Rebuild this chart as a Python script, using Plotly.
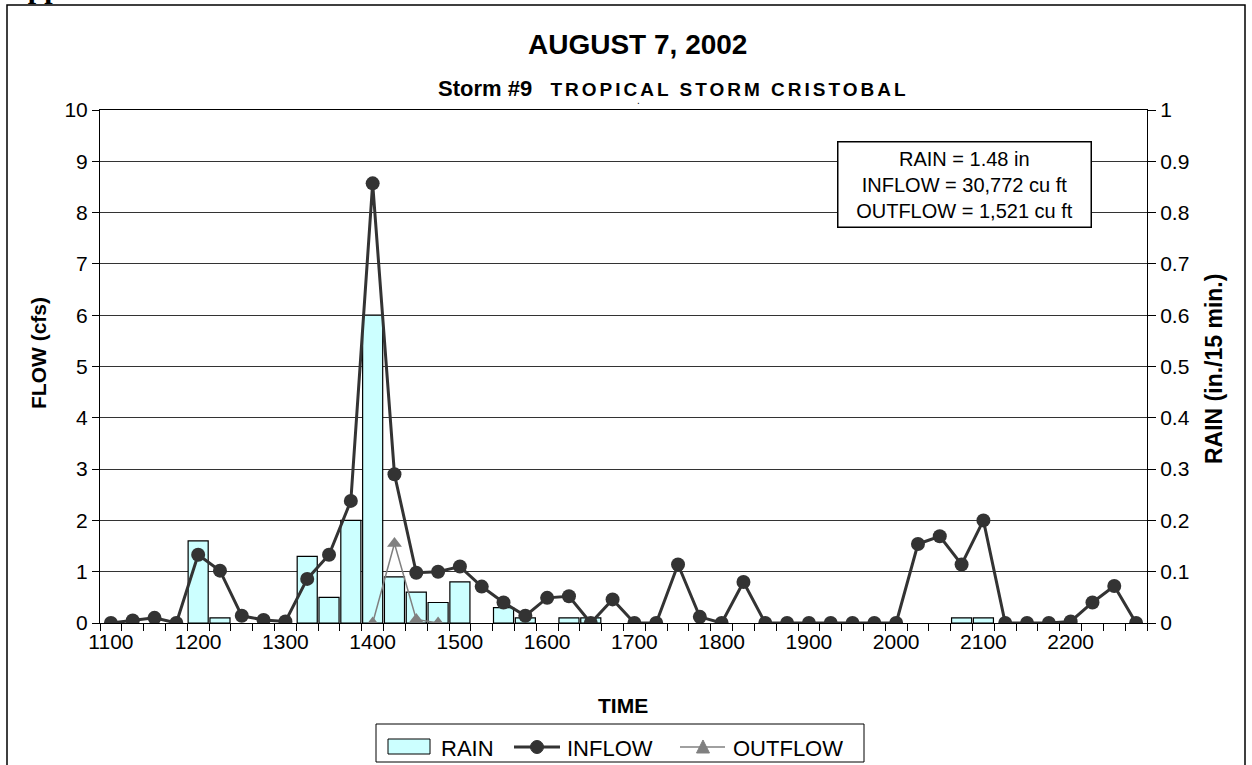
import plotly.graph_objects as go

# 15-minute time steps shown as categories on the x axis
times = [
    "1100", "1115", "1130", "1145", "1200", "1215", "1230", "1245",
    "1300", "1315", "1330", "1345", "1400", "1415", "1430", "1445",
    "1500", "1515", "1530", "1545", "1600", "1615", "1630", "1645",
    "1700", "1715", "1730", "1745", "1800", "1815", "1830", "1845",
    "1900", "1915", "1930", "1945", "2000", "2015", "2030", "2045",
    "2100", "2115", "2130", "2145", "2200", "2215", "2230", "2245",
]

# rain, in./15 min. (right axis)
rain = [
    None, None, None, None, 0.16, 0.01, None, None,
    None, 0.13, 0.05, 0.20, 0.60, 0.09, 0.06, 0.04,
    0.08, None, 0.03, 0.01, None, 0.01, 0.01, None,
    None, None, None, None, None, None, None, None,
    None, None, None, None, None, None, None, 0.01,
    0.01, None, None, None, None, None, None, None,
]

# inflow, cfs (left axis)
inflow = [
    0.0, 0.05, 0.10, 0.0, 1.33, 1.02, 0.14, 0.06,
    0.03, 0.86, 1.33, 2.38, 8.57, 2.90, 0.98, 1.00,
    1.10, 0.71, 0.40, 0.14, 0.49, 0.52, 0.0, 0.46,
    0.0, 0.0, 1.14, 0.12, 0.0, 0.80, 0.0, 0.0,
    0.0, 0.0, 0.0, 0.0, 0.0, 1.54, 1.69, 1.14,
    2.00, 0.0, 0.0, 0.0, 0.03, 0.40, 0.72, 0.0,
]

# outflow, cfs (left axis)
outflow = [None] * 12 + [0.0, 1.55, 0.07, 0.0] + [None] * 32

tick_text = [t if t.endswith("00") else "" for t in times]

FONT = "Liberation Sans, Arial, sans-serif"
W, H = 1252, 765
L, R, T, B = 100, 105, 110, 142
PW, PH = W - L - R, H - T - B


def px(x):
    # pixel column -> paper x
    return (x - L) / PW


def py(y):
    # pixel row -> paper y
    return (H - B - y) / PH


fig = go.Figure()

fig.add_trace(go.Bar(
    x=times, y=rain, name="RAIN", yaxis="y", showlegend=False,
    marker=dict(color="#CCFFFF", line=dict(color="black", width=1.2)),
))
fig.add_trace(go.Scatter(
    x=times, y=inflow, name="INFLOW", yaxis="y2", mode="lines+markers",
    showlegend=False,
    line=dict(color="#333333", width=3),
    marker=dict(symbol="circle", size=14, color="#333333"),
))
fig.add_trace(go.Scatter(
    x=times, y=outflow, name="OUTFLOW", yaxis="y2", mode="lines+markers",
    showlegend=False,
    line=dict(color="#808080", width=1.5),
    marker=dict(symbol="triangle-up", size=13, color="#808080"),
))

fig.update_layout(
    width=W, height=H,
    margin=dict(l=L, r=R, t=T, b=B, autoexpand=False),
    paper_bgcolor="white", plot_bgcolor="white",
    font=dict(family=FONT, size=21, color="black"),
    bargap=0.08,
    xaxis=dict(
        type="category", tickmode="array", tickvals=times, ticktext=tick_text,
        tickson="boundaries", ticks="outside", ticklen=7, tickcolor="black",
        tickangle=0, automargin=False,
        showline=True, linecolor="black", linewidth=1, mirror=True,
        showgrid=False, tickfont=dict(size=21), range=[-0.5, 47.5],
    ),
    yaxis=dict(
        side="right", range=[0, 1], dtick=0.1, ticks="outside", ticklen=8,
        tickcolor="black", showline=True, linecolor="black", linewidth=1,
        showgrid=True, gridcolor="#333333", gridwidth=1, zeroline=False,
        tickfont=dict(size=21), automargin=False,
    ),
    yaxis2=dict(
        side="left", overlaying="y", range=[0, 10], dtick=1, ticks="outside",
        ticklen=7, tickcolor="black", showline=True, linecolor="black",
        linewidth=1, showgrid=False, zeroline=False, tickfont=dict(size=21),
        automargin=False,
    ),
)

annotations = [
    dict(text="<b>AUGUST 7, 2002</b>", x=px(637), y=py(45), font=dict(size=28)),
    dict(text="<b>Storm #9</b>   <span style='font-size:19px;letter-spacing:3px'><b>TROPICAL STORM CRISTOBAL</b></span>",
         x=px(673), y=py(89), font=dict(size=22)),
    dict(text="<b>TIME</b>", x=px(623), y=py(705), font=dict(size=21)),
    dict(text="<b>FLOW (cfs)</b>", x=px(38), y=py(353), textangle=-90, font=dict(size=21)),
    dict(text="<b>RAIN (in./15 min.)</b>", x=px(1214), y=py(369), textangle=-90, font=dict(size=23)),
    dict(text="RAIN = 1.48 in<br>INFLOW = 30,772 cu ft<br>OUTFLOW = 1,521 cu ft",
         x=px(964), y=py(184), font=dict(size=20), bgcolor="white",
         bordercolor="black", borderwidth=1.5, width=250, height=82),
    dict(text=".", x=px(638), y=py(101), font=dict(size=10)),
    # legend labels
    dict(text="RAIN", x=px(439), y=py(748), xanchor="left", font=dict(size=22)),
    dict(text="INFLOW", x=px(565), y=py(748), xanchor="left", font=dict(size=22)),
    dict(text="OUTFLOW", x=px(731), y=py(748), xanchor="left", font=dict(size=22)),
]
for a in annotations:
    a.setdefault("xanchor", "center")
    a.update(xref="paper", yref="paper", showarrow=False, yanchor="middle")
    fig.add_annotation(**a)

# clipped page heading above the chart frame
fig.add_annotation(
    text="<b>App</b>", xref="paper", yref="paper", x=px(4), y=py(6),
    xanchor="left", yanchor="bottom", showarrow=False,
    font=dict(family="Liberation Serif, Times New Roman, serif", size=30),
)

shapes = [
    # outer chart frame
    dict(type="rect", x0=px(7), x1=px(1245), y0=py(800), y1=py(5),
         line=dict(color="black", width=1.5)),
    # legend box and symbols
    dict(type="rect", x0=px(376), x1=px(864), y0=py(762), y1=py(724),
         line=dict(color="black", width=1), fillcolor="white"),
    dict(type="rect", x0=px(388), x1=px(430), y0=py(754), y1=py(739),
         line=dict(color="black", width=1), fillcolor="#CCFFFF"),
    dict(type="line", x0=px(514), x1=px(560), y0=py(747), y1=py(747),
         line=dict(color="#333333", width=3)),
    dict(type="circle", x0=px(530.5), x1=px(543.5), y0=py(753.5), y1=py(740.5),
         line=dict(color="#333333", width=1), fillcolor="#333333"),
    dict(type="line", x0=px(680), x1=px(725), y0=py(747), y1=py(747),
         line=dict(color="#808080", width=1.5)),
    dict(type="path",
         path="M %f,%f L %f,%f L %f,%f Z" % (px(696.5), py(753), px(709.5), py(753),
                                          px(703), py(740)),
         line=dict(color="#808080", width=1), fillcolor="#808080"),
]
for s in shapes:
    s.update(xref="paper", yref="paper", layer="above")
    fig.add_shape(**s)

# the page's default 8px body margin would shift the chart off its pixel grid
fig.write_html(
    "out.html",
    config={"displayModeBar": False},
    post_script="document.body.style.margin = '0';",
)
